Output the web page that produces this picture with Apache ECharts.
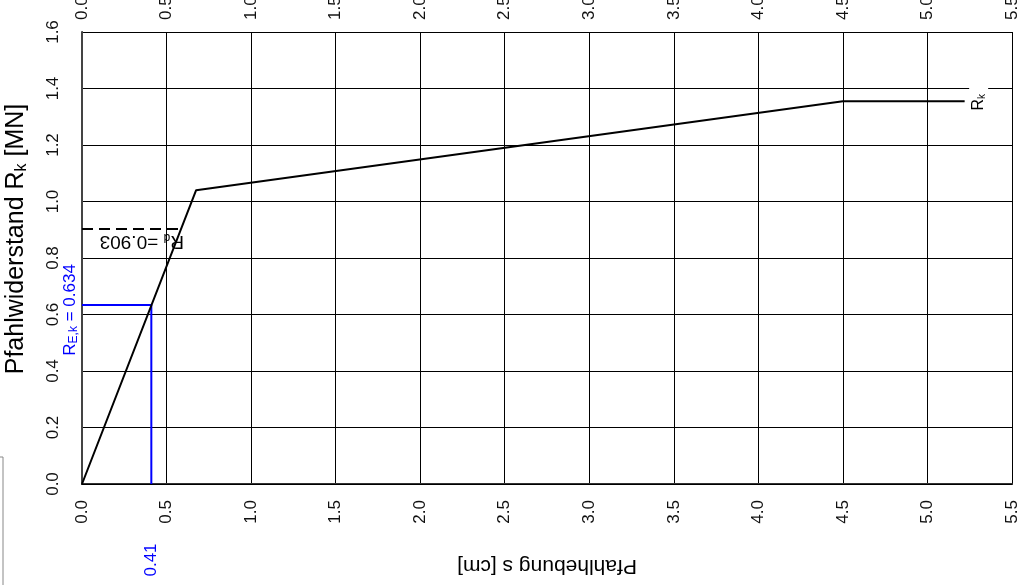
<!DOCTYPE html>
<html>
<head>
<meta charset="utf-8">
<script src="https://cdn.jsdelivr.net/npm/echarts@6/dist/echarts.min.js"></script>
<style>
html,body{margin:0;padding:0;background:#fff;}
#chart{width:1022px;height:585px;}
</style>
</head>
<body>
<div id="chart"></div>
<script>
// Data
const xTicks = [0.0, 0.5, 1.0, 1.5, 2.0, 2.5, 3.0, 3.5, 4.0, 4.5, 5.0, 5.5];
const yTicks = [0.0, 0.2, 0.4, 0.6, 0.8, 1.0, 1.2, 1.4, 1.6];
const rkS = [0, 0.675, 4.5, 5.22];
const rkR = [0, 1.04, 1.355, 1.355];
const rdValue = 0.903;
const rdS = [0, 0.584];
const rekValue = 0.634;
const sEk = 0.41;

const FONT = '"Liberation Sans", Arial, sans-serif';
const chart = echarts.init(document.getElementById('chart'));

const fmt = v => v.toFixed(1);

const option = {
  animation: false,
  backgroundColor: '#fff',
  grid: {left: 82, right: 10, top: 32, bottom: 101, containLabel: false, outerBoundsMode: 'none'},
  xAxis: [
    {
      type: 'value', position: 'bottom', min: 0, max: 5.5, interval: 0.5,
      name: 'Pfahlhebung s [cm]', nameLocation: 'middle', nameGap: 71, nameRotate: 180,
      nameTextStyle: {fontFamily: FONT, fontSize: 21, color: '#000'},
      axisLine: {show: true, lineStyle: {color: '#333', width: 2}},
      axisTick: {show: false},
      axisLabel: {rotate: 90, margin: 16, fontFamily: FONT, fontSize: 17, color: '#111', formatter: fmt},
      splitLine: {show: true, lineStyle: {color: '#000', width: 1}}
    },
    {
      type: 'value', position: 'top', min: 0, max: 5.5, interval: 0.5,
      axisLine: {show: true, lineStyle: {color: '#000', width: 1}},
      axisTick: {show: false},
      axisLabel: {rotate: 90, margin: 12, fontFamily: FONT, fontSize: 17, color: '#111', formatter: fmt},
      splitLine: {show: false}
    }
  ],
  yAxis: [
    {
      type: 'value', position: 'left', min: 0, max: 1.6, interval: 0.2,
      name: '{a|Pfahlwiderstand R}{s|k}{a| [MN]}', nameLocation: 'middle', nameGap: 52, nameRotate: 90,
      nameTextStyle: {
        padding: [0, 0, 0, 38],
        rich: {
          a: {fontFamily: FONT, fontSize: 25, color: '#000'},
          s: {fontFamily: FONT, fontSize: 16, color: '#000', padding: [11, 0, 0, 0]}
        }
      },
      axisLine: {show: true, lineStyle: {color: '#000', width: 1}},
      axisTick: {show: false},
      axisLabel: {rotate: 90, margin: 20, fontFamily: FONT, fontSize: 17, color: '#111', formatter: fmt},
      splitLine: {show: true, lineStyle: {color: '#000', width: 1}}
    },
    {
      type: 'value', position: 'right', min: 0, max: 1.6, interval: 0.2,
      axisLine: {show: true, lineStyle: {color: '#444', width: 2}},
      axisTick: {show: false},
      axisLabel: {show: false},
      splitLine: {show: false}
    }
  ],
  series: [
    {
      name: 'Rk', type: 'line', xAxisIndex: 0, yAxisIndex: 0,
      data: rkS.map((s, i) => [s, rkR[i]]),
      showSymbol: false, symbol: 'none',
      lineStyle: {color: '#000', width: 2}, z: 5
    },
    {
      name: 'Rd', type: 'line', xAxisIndex: 0, yAxisIndex: 0,
      data: rdS.map(s => [s, rdValue]),
      showSymbol: false, symbol: 'none',
      lineStyle: {color: '#000', width: 2, type: [11, 6]}, z: 4
    },
    {
      name: 'REk', type: 'line', xAxisIndex: 0, yAxisIndex: 0,
      data: [[0, rekValue], [sEk, rekValue], [sEk, 0]],
      showSymbol: false, symbol: 'none',
      lineStyle: {color: '#0000ff', width: 2}, z: 4
    }
  ]
};
chart.setOption(option);

// Annotations anchored to data coordinates
const px = (x, y) => chart.convertToPixel({xAxisIndex: 0, yAxisIndex: 0}, [x, y]);
const pEnd = px(rkS[rkS.length - 1], rkR[rkR.length - 1]);
const pRd = px(rdS[1], rdValue);
const pRek = px(0, rekValue);
const pS = px(sEk, 0);

chart.setOption({
  graphic: [
    {
      type: 'text', x: pEnd[0] + 14, y: pEnd[1] - 2, rotation: Math.PI / 2, z: 10,
      style: {
        text: '{a|R}{s|k}', align: 'center', verticalAlign: 'middle',
        backgroundColor: '#fff', padding: [1, 8, 1, 2],
        rich: {a: {fontFamily: FONT, fontSize: 16, fill: '#000'}, s: {fontFamily: FONT, fontSize: 10, fill: '#000', padding: [7, 0, 0, 0]}}
      }
    },
    {
      type: 'text', x: pRd[0] - 39, y: pRd[1] + 12, rotation: Math.PI, z: 10,
      style: {
        text: '{a|R}{s|d}{a| =0.903}', align: 'center', verticalAlign: 'middle',
        rich: {a: {fontFamily: FONT, fontSize: 19, fill: '#000'}, s: {fontFamily: FONT, fontSize: 12, fill: '#000', padding: [8, 0, 0, 0]}}
      }
    },
    {
      type: 'text', x: pRek[0] - 12, y: pRek[1] + 5, rotation: Math.PI / 2, z: 10,
      style: {
        text: '{a|R}{s|E,k}{a| = ' + rekValue.toFixed(3) + '}', align: 'center', verticalAlign: 'middle',
        fill: '#0000ff',
        rich: {a: {fontFamily: FONT, fontSize: 17, fill: '#0000ff'}, s: {fontFamily: FONT, fontSize: 12, fill: '#0000ff', padding: [8, 0, 0, 0]}}
      }
    },
    {
      type: 'text', x: pS[0], y: pS[1] + 76, rotation: Math.PI / 2, z: 10,
      style: {
        text: sEk.toFixed(2), align: 'center', verticalAlign: 'middle',
        fontFamily: FONT, fontSize: 17, fill: '#0000ff'
      }
    },
    {
      type: 'polyline', z: 1,
      shape: {points: [[0, 457], [3, 457], [3, 585]]},
      style: {stroke: '#888', lineWidth: 1, fill: null}
    }
  ]
});
</script>
</body>
</html>
